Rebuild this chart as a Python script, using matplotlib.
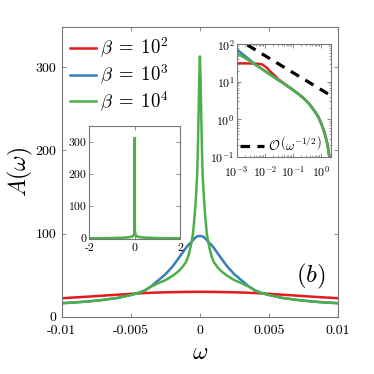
import matplotlib
matplotlib.use("Agg")
import matplotlib.pyplot as plt
import numpy as np

plt.rcParams["font.family"] = "cmr10"
plt.rcParams["mathtext.fontset"] = "cm"
plt.rcParams["axes.unicode_minus"] = False
plt.rcParams["axes.formatter.use_mathtext"] = True

RED = "#e41a1c"
BLUE = "#377eb8"
GREEN = "#4daf4a"
EDGE = "#777777"

# main panel, values read at positive omega (curves are symmetric)
omega_half = [0, 0.00005, 0.0001, 0.00015, 0.0002, 0.0003, 0.0004, 0.0005,
              0.0006, 0.0008, 0.001, 0.0013, 0.0016, 0.002, 0.0025, 0.003,
              0.0035, 0.004, 0.0045, 0.005, 0.006, 0.007, 0.008, 0.009, 0.01]
a_beta2 = [30.0, 30.0, 30.0, 30.0, 30.0, 30.0, 30.0, 29.95, 29.95, 29.9, 29.9,
           29.8, 29.7, 29.6, 29.4, 29.2, 28.9, 28.5, 28.1, 27.6, 26.5, 25.4,
           24.3, 23.3, 22.3]
a_beta3 = [97.0, 97.0, 96.9, 96.8, 96.5, 95.5, 94.0, 92.2, 90.0, 87.0, 83.0,
           76.0, 69.0, 60.0, 51.0, 44.0, 37.0, 31.5, 28.5, 26.2, 22.6, 20.3,
           18.6, 17.3, 16.4]
a_beta4 = [313.0, 285.0, 240.0, 200.0, 170.0, 140.0, 118.0, 100.0, 90.0, 75.0,
           66.0, 59.0, 54.0, 49.0, 44.0, 40.5, 36.5, 31.5, 28.3, 26.0, 22.5,
           20.3, 18.5, 17.2, 16.2]

# log-log inset
omega_log = [0.001, 0.0018, 0.003, 0.0042, 0.006, 0.0082, 0.012, 0.016, 0.022,
             0.028, 0.035, 0.049, 0.08, 0.15, 0.25, 0.4, 0.57, 0.8, 1.05, 1.35,
             1.73, 2.0, 2.4]
log_beta2 = [31.0, 31.0, 30.8, 30.5, 30.2, 29.0, 23.5, 18.5, 15.0, 12.3, 10.8,
             9.0, 6.9, 4.9, 3.6, 2.5, 1.75, 1.2, 0.76, 0.45, 0.22, 0.11, 0.04]
log_beta3 = [73.0, 51.5, 38.0, 30.5, 25.2, 21.6, 17.8, 15.3, 13.1, 11.6, 10.4,
             8.9, 6.9, 4.9, 3.6, 2.5, 1.75, 1.2, 0.76, 0.45, 0.22, 0.11, 0.04]
log_beta4 = [57.0, 45.0, 35.5, 29.7, 25.0, 21.5, 17.7, 15.3, 13.1, 11.6, 10.4,
             8.9, 6.9, 4.9, 3.6, 2.5, 1.75, 1.2, 0.76, 0.45, 0.22, 0.11, 0.04]
ref_omega = [0.0024, 2.4]
ref_a = [96.0, 4.2]

labels = [r"$\beta\;=\;10^2$", r"$\beta\;=\;10^3$", r"$\beta\;=\;10^4$"]
colors = [RED, BLUE, GREEN]


def mirror(x, y):
    x = np.asarray(x, dtype=float)
    y = np.asarray(y, dtype=float)
    return np.concatenate([-x[:0:-1], x]), np.concatenate([y[:0:-1], y])


def style_axes(ax, size, xpad=2, ypad=2):
    for sp in ax.spines.values():
        sp.set_color(EDGE)
        sp.set_linewidth(0.8)
    ax.tick_params(direction="in", top=True, right=True, labelsize=size,
                   color=EDGE, length=3, width=0.6)
    ax.tick_params(axis="x", pad=xpad)
    ax.tick_params(axis="y", pad=ypad)
    ax.tick_params(which="minor", direction="in", top=True, right=True,
                   color=EDGE, length=1.5, width=0.5)


fig = plt.figure(figsize=(3.74, 3.74), dpi=100)

# main panel
ax = fig.add_axes([0.165, 0.153, 0.739, 0.774])
for a, c, lab in zip([a_beta2, a_beta3, a_beta4], colors, labels):
    x, y = mirror(omega_half, a)
    ax.plot(x, y, color=c, lw=1.8, label=lab)
ax.set_xlim(-0.01, 0.01)
ax.set_ylim(0, 348)
ax.set_xticks([-0.01, -0.005, 0, 0.005, 0.01])
ax.set_xticklabels(["-0.01", "-0.005", "0", "0.005", "0.01"])
ax.set_yticks([0, 100, 200, 300])
ax.set_yticklabels(["0", "100", "200", "300"])
style_axes(ax, 10, xpad=5.5, ypad=4)
ax.set_xlabel(r"$\omega$", fontsize=17, labelpad=4)
ax.set_ylabel(r"$A(\omega)$", fontsize=17, labelpad=0)
ax.text(0.902, 0.14, r"$(b)$", transform=ax.transAxes, fontsize=18,
        ha="center", va="center")
ax.legend(loc="upper left", frameon=False, fontsize=13.5, handlelength=1.4,
          handletextpad=0.2, labelspacing=0.12, borderaxespad=0.15,
          borderpad=0.3)

# linear inset, wide range of beta = 10^4
ax1 = fig.add_axes([0.239, 0.361, 0.2425, 0.302])
wide_x = list(omega_half) + [w for w in omega_log if w > 0.01]
wide_y = list(a_beta4) + [v for w, v in zip(omega_log, log_beta4) if w > 0.01]
x, y = mirror(wide_x, wide_y)
ax1.plot(x, y, color=GREEN, lw=1.9)
ax1.set_xlim(-2, 2)
ax1.set_ylim(-2, 350)
ax1.set_xticks([-2, 0, 2])
ax1.set_xticklabels(["-2", "0", "2"])
ax1.set_yticks([0, 100, 200, 300])
ax1.set_yticklabels(["0", "100", "200", "300"])
style_axes(ax1, 8.5, xpad=3, ypad=2)

# log-log inset
ax2 = fig.add_axes([0.633, 0.581, 0.253, 0.3005])
for a, c in zip([log_beta2, log_beta3, log_beta4], colors):
    ax2.plot(omega_log, a, color=c, lw=1.8)
ax2.plot(ref_omega, ref_a, color="black", lw=2.3, ls=(0, (3, 2.3)),
         label=r"$\mathcal{O}\,\left(\omega^{-1/2}\right)$")
ax2.set_xscale("log")
ax2.set_yscale("log")
ax2.set_xlim(1e-3, 2.4)
ax2.set_ylim(0.1, 100)
ax2.set_xticks([1e-3, 1e-2, 1e-1, 1e0])
ax2.set_xticklabels([r"$10^{-3}$", r"$10^{-2}$", r"$10^{-1}$", r"$10^{0}$"])
ax2.set_yticks([1e-1, 1e0, 1e1, 1e2])
ax2.set_yticklabels([r"$10^{-1}$", r"$10^{0}$", r"$10^{1}$", r"$10^{2}$"])
style_axes(ax2, 8.5, xpad=5, ypad=1.5)
ax2.legend(loc="lower left", frameon=False, fontsize=9.5, handlelength=1.8,
           handletextpad=0.3, borderaxespad=0.05, borderpad=0.2)

fig.savefig("out.png", dpi=100)
